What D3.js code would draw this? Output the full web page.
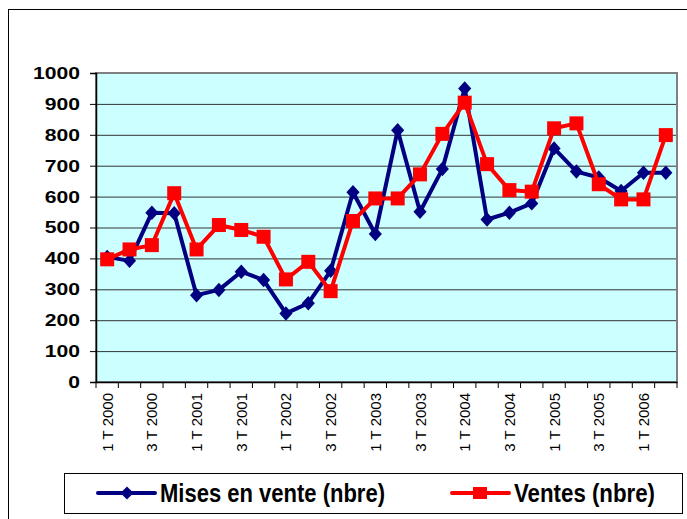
<!DOCTYPE html>
<html><head><meta charset="utf-8">
<script src="https://cdn.jsdelivr.net/npm/d3@7"></script>
<style>body{margin:0;background:#fff;}svg{display:block;}</style>
</head><body>
<svg id="c" width="687" height="519"></svg>
<script>
const quarters = ["1 T 2000","2 T 2000","3 T 2000","4 T 2000","1 T 2001","2 T 2001","3 T 2001","4 T 2001",
"1 T 2002","2 T 2002","3 T 2002","4 T 2002","1 T 2003","2 T 2003","3 T 2003","4 T 2003",
"1 T 2004","2 T 2004","3 T 2004","4 T 2004","1 T 2005","2 T 2005","3 T 2005","4 T 2005","1 T 2006","2 T 2006"];
const misesEnVente = [405,392,548,546,281,298,357,330,222,255,360,614,479,815,551,689,950,526,548,578,756,681,662,618,677,677];
const ventes = [397,429,443,611,429,508,492,470,332,389,294,521,594,594,672,803,904,705,621,616,821,837,640,591,591,799];
const yTicks = [0,100,200,300,400,500,600,700,800,900,1000];
const seriesNames = ["Mises en vente (nbre)","Ventes (nbre)"];

const svg = d3.select("#c");
const L=96, R=677, T=73, B=382;
const FF = "Liberation Sans, Arial, sans-serif";
// outer frame
svg.append("rect").attr("x",8.5).attr("y",9.5).attr("width",700).attr("height",540)
  .attr("fill","#fff").attr("stroke","#000").attr("stroke-width",1);

const x = d3.scaleBand().domain(quarters).range([L,R]).padding(0);
const y = d3.scaleLinear().domain([0,1000]).range([B,T]);

svg.append("rect").attr("x",L).attr("y",T).attr("width",R-L).attr("height",B-T).attr("fill","#CCFFFF");
svg.append("g").selectAll("line").data(yTicks.filter(d=>d>0)).join("line")
  .attr("x1",L).attr("x2",R).attr("y1",d=>y(d)+0.5).attr("y2",d=>y(d)+0.5)
  .attr("stroke","#333").attr("stroke-width",1);
svg.append("rect").attr("x",L).attr("y",T).attr("width",R-L).attr("height",B-T)
  .attr("fill","none").attr("stroke","#808080").attr("stroke-width",2);

// y axis
const ya = svg.append("g").attr("transform",`translate(${L},0)`)
  .call(d3.axisLeft(y).tickValues(yTicks).tickSize(6).tickPadding(10).tickFormat(d3.format("d")));
ya.select(".domain").attr("stroke","#000").attr("stroke-width",1.5);
ya.selectAll(".tick line").attr("stroke","#000");
ya.selectAll("text").attr("font-family",FF).attr("font-weight","bold")
  .attr("font-size","17px").attr("fill","#000")
  .attr("textLength",d=>String(d).length*11.75).attr("lengthAdjust","spacingAndGlyphs");

// x axis
const xa = svg.append("g").attr("transform",`translate(0,${B})`)
  .call(d3.axisBottom(x).tickSize(0).tickFormat(""));
xa.select(".domain").attr("stroke","#000").attr("stroke-width",1.5);
svg.append("g").selectAll("line").data(quarters.concat(["end"])).join("line")
  .attr("x1",(d,i)=>L+i*x.step()).attr("x2",(d,i)=>L+i*x.step())
  .attr("y1",B).attr("y2",B+6).attr("stroke","#000");
svg.append("g").selectAll("text").data(quarters.filter((d,i)=>i%2===0)).join("text")
  .attr("transform",d=>`translate(${x(d)+x.bandwidth()/2+5.5},${B+11}) rotate(-90)`)
  .attr("text-anchor","end").attr("font-family",FF)
  .attr("font-size","15px").attr("fill","#000").text(d=>d);

const line = d3.line().x((d,i)=>x(quarters[i])+x.bandwidth()/2).y(d=>y(d));
svg.append("path").datum(misesEnVente).attr("d",line).attr("fill","none")
  .attr("stroke","#000080").attr("stroke-width",4).attr("stroke-linejoin","round");
svg.append("g").selectAll("path").data(misesEnVente).join("path")
  .attr("d",d3.symbol(d3.symbolDiamond2,110))
  .attr("transform",(d,i)=>`translate(${x(quarters[i])+x.bandwidth()/2},${y(d)}) scale(1,1.1)`)
  .attr("fill","#000080");
svg.append("path").datum(ventes).attr("d",line).attr("fill","none")
  .attr("stroke","#FF0000").attr("stroke-width",4).attr("stroke-linejoin","round");
svg.append("g").selectAll("rect").data(ventes).join("rect")
  .attr("x",(d,i)=>x(quarters[i])+x.bandwidth()/2-7).attr("y",d=>y(d)-7)
  .attr("width",14).attr("height",14).attr("fill","#FF0000");

// legend
const lg = svg.append("g");
lg.append("rect").attr("x",64.5).attr("y",473.5).attr("width",618).attr("height",40)
  .attr("fill","#fff").attr("stroke","#000").attr("stroke-width",1);
const items = [{n:seriesNames[0],c:"#000080",x0:98,m:"d",w:225},{n:seriesNames[1],c:"#FF0000",x0:452,m:"s",w:141}];
items.forEach(it=>{
  lg.append("line").attr("x1",it.x0).attr("x2",it.x0+57).attr("y1",493).attr("y2",493)
    .attr("stroke",it.c).attr("stroke-width",4).attr("stroke-linecap","round");
  if(it.m==="d"){
    lg.append("path").attr("d",d3.symbol(d3.symbolDiamond2,110)).attr("transform",`translate(${it.x0+29},493)`).attr("fill",it.c);
  } else {
    lg.append("rect").attr("x",it.x0+21).attr("y",487).attr("width",14).attr("height",12).attr("fill",it.c);
  }
  lg.append("text").attr("x",it.x0+62).attr("y",502).attr("font-family",FF)
    .attr("font-weight","bold").attr("font-size","25px").attr("fill","#000")
    .attr("textLength",it.w).attr("lengthAdjust","spacingAndGlyphs").text(it.n);
});
</script>
</body></html>
